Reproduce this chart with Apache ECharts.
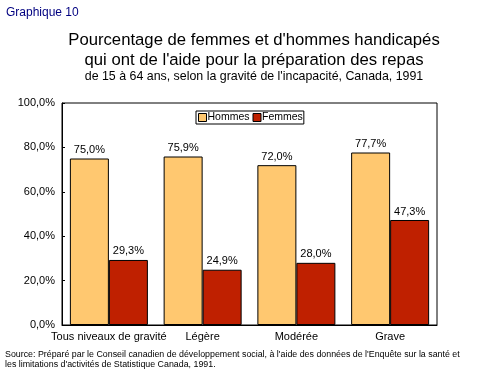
<!DOCTYPE html>
<html><head><meta charset="utf-8">
<script src="https://cdn.jsdelivr.net/npm/echarts@6/dist/echarts.min.js"></script>
<style>html,body{margin:0;padding:0;background:#fff}#c{width:477px;height:372px}</style>
</head><body><div id="c"></div>
<script>
const categories = ['Tous niveaux de gravité', 'Légère', 'Modérée', 'Grave'];
const hommes = [75.0, 75.9, 72.0, 77.7];
const femmes = [29.3, 24.9, 28.0, 47.3];
const yTicks = [0, 20, 40, 60, 80, 100];

const F = 'Liberation Sans, Arial, sans-serif';
const fmt = v => v.toFixed(1).replace('.', ',') + '%';
const chart = echarts.init(document.getElementById('c'));
chart.setOption({
  animation: false,
  backgroundColor: '#fff',
  title: [
    {text: 'Graphique 10', left: 1, top: 2, textStyle: {fontFamily: F, fontSize: 12, fontWeight: 'normal', color: '#000080'}},
    {text: "Pourcentage de femmes et d'hommes handicapés\nqui ont de l'aide pour la préparation des repas", left: 249, textAlign: 'center', top: 25, textStyle: {fontFamily: F, fontSize: 16.7, fontWeight: 'normal', color: '#000', lineHeight: 20}},
    {text: "de 15 à 64 ans, selon la gravité de l'incapacité, Canada, 1991", left: 249, textAlign: 'center', top: 66, textStyle: {fontFamily: F, fontSize: 12.4, fontWeight: 'normal', color: '#000'}},
    {text: "Source: Préparé par le Conseil canadien de développement social, à l'aide des données de l'Enquête sur la santé et\nles limitations d'activités de Statistique Canada, 1991.", left: 0, top: 345, textStyle: {fontFamily: F, fontSize: 8.85, fontWeight: 'normal', color: '#000', lineHeight: 10}}
  ],
  legend: {
    data: ['Hommes', 'Femmes'], left: 196, top: 111, itemWidth: 8, itemHeight: 8, itemGap: 3,
    borderColor: '#000', borderWidth: 1, padding: [1, 1, 1, 2],
    textStyle: {fontFamily: F, fontSize: 10.5, color: '#000', padding: [0, 0, 0, -4]},
    icon: 'rect', itemStyle: {borderColor: '#000', borderWidth: 1}
  },
  grid: {left: 62, right: 40, top: 103, bottom: 47, show: true, borderColor: '#000', borderWidth: 1},
  xAxis: {
    type: 'category', data: categories,
    axisLine: {lineStyle: {color: '#000'}}, axisTick: {show: false},
    axisLabel: {fontFamily: F, fontSize: 11, color: '#000', margin: 6, interval: 0}
  },
  yAxis: {
    type: 'value', min: 0, max: 100, interval: 20,
    axisLine: {show: true, lineStyle: {color: '#000'}}, axisTick: {show: true, inside: true, length: 3, lineStyle: {color: '#000'}},
    splitLine: {show: false},
    axisLabel: {fontFamily: F, fontSize: 11, color: '#000', margin: 7, formatter: v => yTicks.includes(v) ? fmt(v) : ''}
  },
  series: [
    {name: 'Hommes', type: 'bar', data: hommes, barWidth: 39, barGap: '0%',
     itemStyle: {color: '#FFC870', borderColor: '#000', borderWidth: 1},
     label: {show: true, position: 'top', distance: 3, fontFamily: F, fontSize: 11, color: '#000', formatter: p => fmt(p.value)}},
    {name: 'Femmes', type: 'bar', data: femmes, barWidth: 39,
     itemStyle: {color: '#BF2000', borderColor: '#000', borderWidth: 1},
     label: {show: true, position: 'top', distance: 3, fontFamily: F, fontSize: 11, color: '#000', formatter: p => fmt(p.value)}}
  ]
});
</script></body></html>
